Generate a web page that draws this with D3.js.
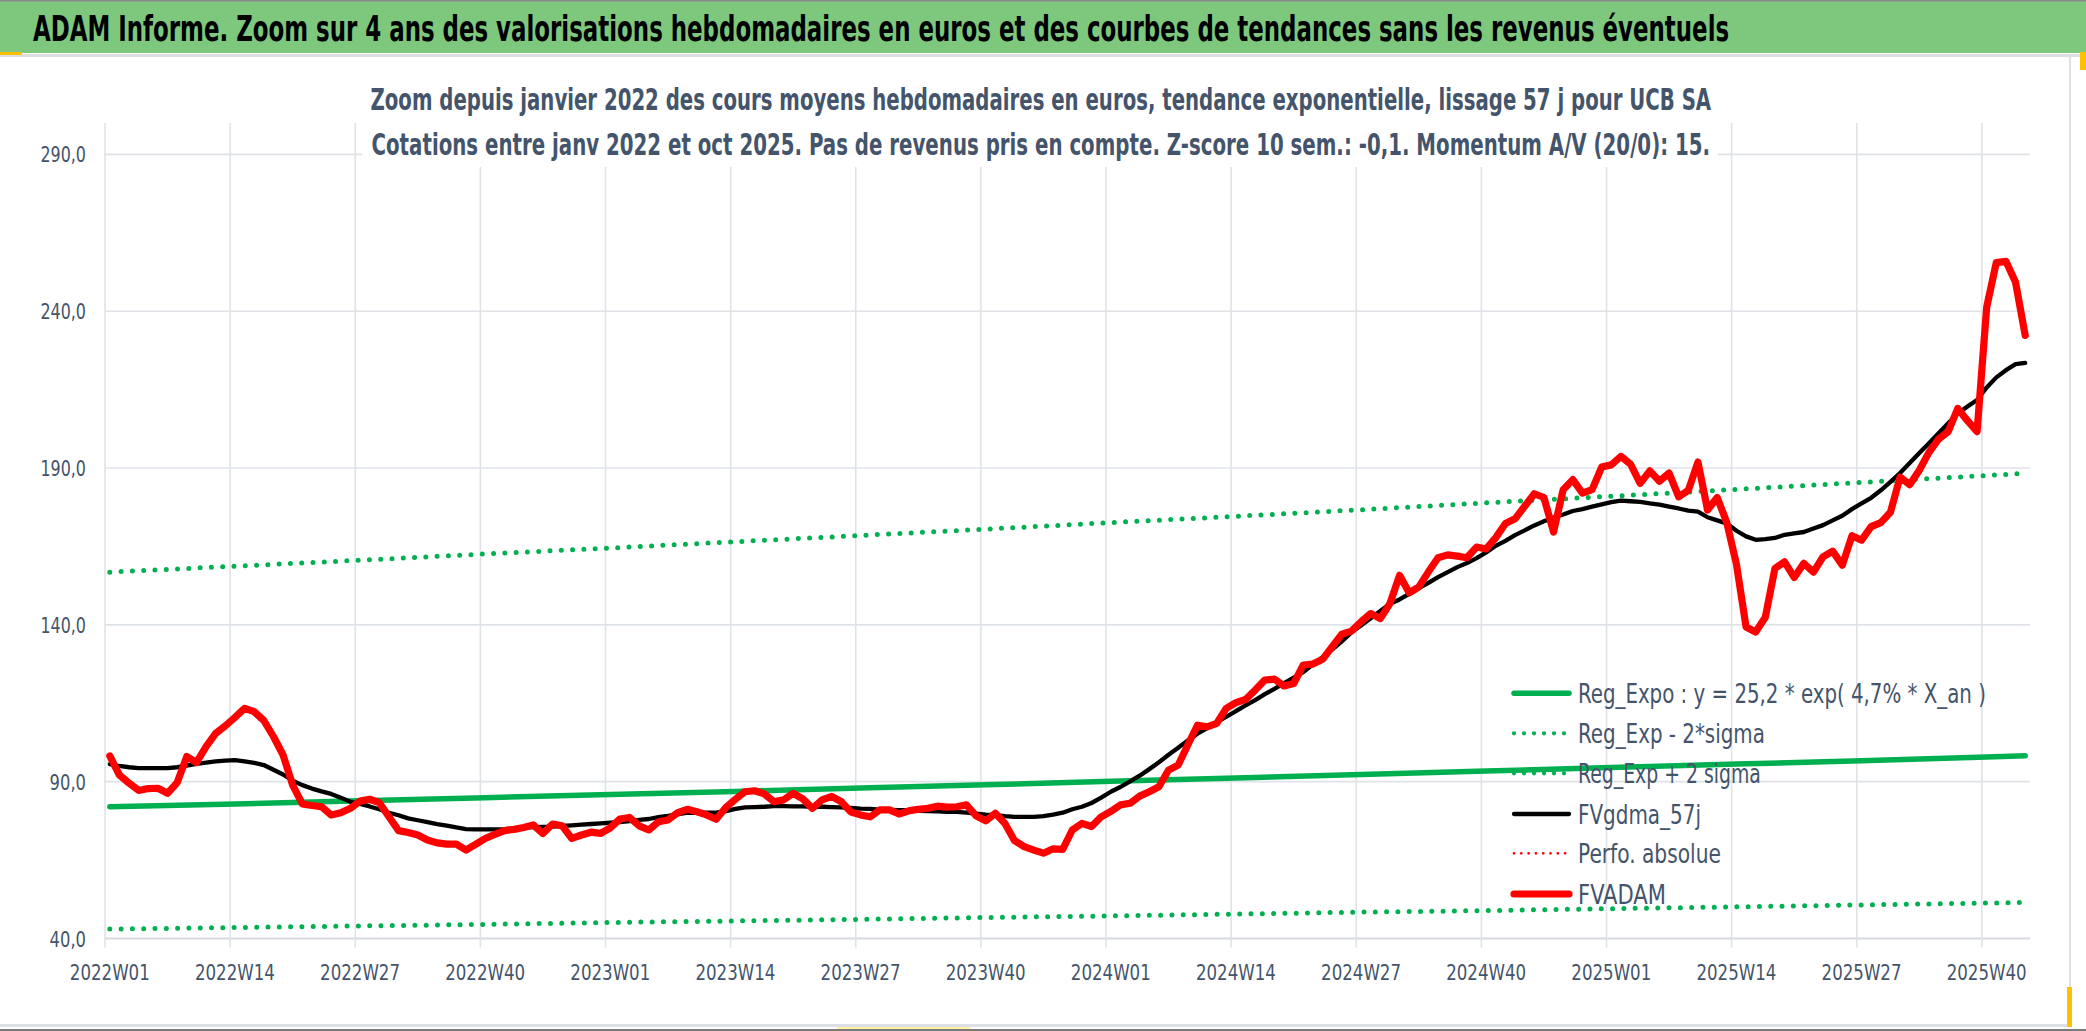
<!DOCTYPE html>
<html>
<head>
<meta charset="utf-8">
<script src="https://cdn.jsdelivr.net/npm/d3@7"></script>
<style>
  body { margin: 0; background: #fff; }
</style>
</head>
<body>
<div id="chart"></div>
<script>
// ---- data ----
const titleText = "ADAM Informe. Zoom sur 4 ans des valorisations hebdomadaires en euros et des courbes de tendances sans les revenus éventuels";
const subtitleLines = [
  "Zoom depuis janvier 2022 des cours moyens hebdomadaires en euros, tendance exponentielle, lissage 57 j pour UCB SA",
  "Cotations entre janv 2022 et oct 2025. Pas de revenus pris en compte. Z-score 10 sem.: -0,1. Momentum A/V (20/0): 15."
];

const tickLabels = ["2022W01", "2022W14", "2022W27", "2022W40", "2023W01", "2023W14", "2023W27", "2023W40",
  "2024W01", "2024W14", "2024W27", "2024W40", "2025W01", "2025W14", "2025W27", "2025W40"];
const yTicks = [40, 90, 140, 190, 240, 290];

// FVADAM : weekly average price, one value per week from 2022W01
const fvadam = [
  98.2, 92.1, 89.5, 87.2, 87.8, 87.9, 86.3, 89.7, 98.0, 96.1,
  101.2, 105.4, 107.8, 110.5, 113.4, 112.3, 109.5, 104.4, 98.5, 88.9,
  82.9, 82.4, 82.0, 79.4, 80.1, 81.5, 83.8, 84.4, 83.3, 78.8,
  74.4, 73.8, 73.0, 71.4, 70.5, 70.1, 70.1, 68.2, 70.0, 71.9,
  73.2, 74.4, 74.8, 75.4, 76.2, 73.5, 76.5, 75.9, 71.9, 73.0,
  73.9, 73.5, 75.3, 78.1, 78.6, 75.9, 74.6, 77.2, 77.8, 80.1,
  81.2, 80.4, 79.4, 78.0, 81.8, 84.4, 86.8, 87.1, 86.1, 83.6,
  84.2, 86.3, 84.5, 81.5, 84.2, 85.3, 83.6, 80.3, 79.4, 78.8,
  81.0, 81.0, 79.7, 80.7, 81.2, 81.5, 82.2, 81.9, 82.0, 82.6,
  79.1, 77.5, 79.9, 76.7, 71.2, 69.3, 68.2, 67.2, 68.6, 68.4,
  74.6, 76.7, 75.7, 78.8, 80.5, 82.6, 83.1, 85.4, 86.8, 88.4,
  93.7, 95.3, 101.7, 108.0, 107.5, 108.6, 113.4, 115.2, 116.2, 119.2,
  122.4, 122.7, 120.5, 121.3, 127.2, 127.5, 129.0, 133.0, 137.0, 138.0,
  141.0, 143.6, 142.0, 146.8, 155.8, 150.2, 152.1, 156.9, 161.4, 162.3,
  161.9, 161.4, 164.8, 164.2, 167.8, 172.3, 173.8, 177.8, 181.8, 180.6,
  169.6, 183.1, 186.3, 182.0, 183.1, 190.3, 191.0, 193.7, 191.2, 185.1,
  189.1, 185.8, 188.4, 180.8, 182.9, 191.9, 176.6, 180.6, 172.6, 159.3,
  139.3, 137.7, 142.4, 158.0, 160.1, 155.1, 159.6, 156.8, 161.7, 163.5,
  159.0, 168.4, 167.0, 171.3, 172.6, 175.9, 187.1, 184.7, 189.3, 195.0,
  199.2, 201.6, 209.0, 205.1, 201.6, 241.3, 255.5, 255.9, 249.2, 232.3
];

// FVgdma_57j : smoothed curve, one value per week
const fvgdma57 = [
  95.6, 95.0, 94.6, 94.3, 94.3, 94.3, 94.3, 94.6, 95.1, 95.7,
  96.1, 96.5, 96.7, 96.9, 96.5, 96.0, 95.3, 93.8, 92.3, 90.3,
  88.9, 87.8, 86.9, 86.1, 84.9, 83.6, 82.9, 82.1, 81.2, 80.1,
  79.3, 78.3, 77.7, 77.1, 76.5, 76.0, 75.4, 74.9, 74.8, 74.8,
  74.8, 74.9, 75.1, 75.4, 75.5, 75.6, 75.7, 75.9, 76.1, 76.3,
  76.5, 76.7, 76.9, 77.1, 77.4, 77.8, 78.1, 78.7, 79.1, 79.6,
  80.1, 80.1, 80.1, 80.1, 80.6, 81.3, 81.8, 81.9, 82.0, 82.2,
  82.2, 82.1, 82.1, 82.0, 82.0, 81.9, 81.8, 81.6, 81.4, 81.3,
  81.1, 81.0, 80.9, 80.9, 80.7, 80.6, 80.5, 80.4, 80.4, 80.1,
  79.8, 79.5, 79.3, 79.0, 78.8, 78.8, 78.8, 79.0, 79.5, 80.1,
  81.2, 82.0, 83.2, 84.9, 86.8, 88.3, 90.1, 91.9, 94.0, 96.2,
  98.6, 100.8, 103.1, 105.3, 107.1, 108.9, 110.7, 112.5, 114.3, 116.0,
  117.9, 119.6, 121.4, 123.2, 124.9, 127.4, 129.7, 132.1, 134.7, 137.6,
  139.8, 142.1, 144.4, 146.7, 148.1, 149.9, 151.7, 153.4, 155.2, 156.8,
  158.4, 159.7, 161.3, 163.1, 165.2, 166.8, 168.6, 170.1, 171.7, 173.0,
  174.2, 175.2, 176.3, 176.9, 177.7, 178.4, 179.1, 179.6, 179.4, 179.2,
  178.7, 178.3, 177.7, 177.1, 176.4, 176.1, 174.3, 173.3, 172.3, 170.0,
  168.2, 167.1, 167.3, 167.7, 168.7, 169.2, 169.6, 170.7, 171.8, 173.3,
  174.8, 176.9, 178.7, 180.5, 182.9, 185.6, 188.4, 191.6, 194.8, 197.9,
  201.1, 204.3, 207.4, 209.6, 211.7, 215.7, 218.9, 221.2, 223.1, 223.5
];

// trend curves, read at the labelled weeks and at the last week
const trendWeeks = [0, 13, 26, 39, 52, 65, 78, 91, 104, 117, 130, 143, 156, 169, 182, 195, 199];
const regExpo = [82.0, 82.9, 83.9, 84.9, 85.9, 86.9, 88.0, 89.0, 90.1, 91.2, 92.3, 93.4, 94.5, 95.6, 96.7, 97.9, 98.3];
const regMinus2Sigma = [43.0, 43.5, 44.0, 44.5, 45.1, 45.6, 46.1, 46.7, 47.2, 47.8, 48.4, 48.9, 49.5, 50.1, 50.7, 51.3, 51.5];
const regPlus2Sigma = [156.8, 158.7, 160.6, 162.6, 164.5, 166.5, 168.5, 170.5, 172.6, 174.6, 176.7, 178.9, 181.0, 183.2, 185.4, 187.6, 188.3];
const perfoAbsolue = []; // in the legend only, nothing drawn

const legendLabels = [
  "Reg_Expo : y = 25,2 * exp( 4,7% *  X_an )",
  "Reg_Exp - 2*sigma",
  "Reg_Exp + 2 sigma",
  "FVgdma_57j",
  "Perfo. absolue",
  "FVADAM"
];

// ---- layout ----
const W = 2086, H = 1031;
const plot = { left: 105, right: 2030, top: 123, bottom: 938.5 };
const textColor = "#44546a";
const font = "'Liberation Sans Narrow', 'DejaVu Sans Condensed', 'Open Sans', sans-serif";

const svg = d3.select("#chart").append("svg")
  .attr("width", W).attr("height", H)
  .style("display", "block");

// frame and title band
svg.append("rect").attr("x", 0).attr("y", 0).attr("width", W).attr("height", H).attr("fill", "#fff");
svg.append("rect").attr("x", 0).attr("y", 1).attr("width", W).attr("height", 52).attr("fill", "#7dc87d");
svg.append("line").attr("x1", 0).attr("x2", W).attr("y1", 0.8).attr("y2", 0.8).attr("stroke", "#8a8a8a").attr("stroke-width", 1.6);
svg.append("line").attr("x1", 0).attr("x2", W).attr("y1", 55.5).attr("y2", 55.5).attr("stroke", "#dcdfe4").attr("stroke-width", 3);
svg.append("line").attr("x1", 2070).attr("x2", 2070).attr("y1", 56).attr("y2", 1026).attr("stroke", "#dcdfe4").attr("stroke-width", 2);
svg.append("line").attr("x1", 0).attr("x2", 2071).attr("y1", 1025.5).attr("y2", 1025.5).attr("stroke", "#dcdfe4").attr("stroke-width", 3);
svg.append("line").attr("x1", 0).attr("x2", W).attr("y1", 1030).attr("y2", 1030).attr("stroke", "#7a7a7a").attr("stroke-width", 2);
svg.append("rect").attr("x", 0).attr("y", 52).attr("width", 22).attr("height", 3).attr("fill", "#ffc000");
svg.append("rect").attr("x", 2080).attr("y", 52).attr("width", 6).attr("height", 18).attr("fill", "#ffc000");
svg.append("rect").attr("x", 2067).attr("y", 987).attr("width", 5).attr("height", 40).attr("fill", "#ffc000");
svg.append("rect").attr("x", 837).attr("y", 1027).attr("width", 133).attr("height", 2).attr("fill", "#fff2a0");

// squeeze a text horizontally so it spans w pixels starting at x0 (baseline y0)
function fitText(parent, str, x0, y0, w, size, weight, fill) {
  const t = parent.append("text")
    .attr("x", 0).attr("y", 0)
    .attr("font-family", font).attr("font-size", size)
    .attr("font-weight", weight || "normal")
    .attr("fill", fill || textColor)
    .text(str);
  const natural = t.node().getComputedTextLength() || w;
  t.attr("transform", `translate(${x0},${y0}) scale(${w / natural},1)`);
  return t;
}

fitText(svg, titleText, 33, 41, 1697, 35, "bold", "#000");

// scales
const nWeeks = fvadam.length;
const x = d3.scaleLinear().domain([0, nWeeks]).range([plot.left, plot.right]);
const y = d3.scaleLinear().domain([40, 300]).range([plot.bottom, plot.top]);
const xc = i => x(i + 0.5);

// gridlines
const grid = svg.append("g");
grid.selectAll("line.h").data(yTicks).join("line")
  .attr("x1", plot.left).attr("x2", plot.right)
  .attr("y1", d => y(d)).attr("y2", d => y(d))
  .attr("stroke", d => d === 40 ? "#d6dae0" : "#dfe3e8")
  .attr("stroke-width", d => d === 40 ? 2.2 : 1.6);
grid.selectAll("line.v").data(tickLabels).join("line")
  .attr("x1", (d, k) => x(13 * k)).attr("x2", (d, k) => x(13 * k))
  .attr("y1", plot.top).attr("y2", plot.bottom + 9)
  .attr("stroke", "#dfe3e8").attr("stroke-width", 1.6);

// axis labels
const yFmt = d => d3.format(".1f")(d).replace(".", ",");
const yAxisG = svg.append("g");
yTicks.forEach(d => {
  const s = yFmt(d), w = s.length * 9.1;
  fitText(yAxisG, s, 86 - w, y(d) + 8, w, 22);
});
const xAxisG = svg.append("g");
tickLabels.forEach((s, k) => {
  fitText(xAxisG, s, xc(13 * k) - 40, 980, 80, 22);
});

// subtitle box (white, hides the gridlines behind it)
svg.append("rect").attr("x", 362).attr("y", 70).attr("width", 1356).attr("height", 97).attr("fill", "#fff");
const subW = [1341, 1339];
subtitleLines.forEach((s, k) => {
  fitText(svg, s, 1041 - subW[k] / 2, 110 + 45 * k, subW[k], 30, "bold");
});

// series
const weekLine = d3.line().x((d, i) => xc(i)).y(d => y(d));
const trendLine = d3.line().x((d, k) => xc(trendWeeks[k])).y(d => y(d));

const styles = [
  { stroke: "#00b050", width: 5.5, dash: null },
  { stroke: "#00b050", width: 5, dash: "0 11.3" },
  { stroke: "#00b050", width: 5, dash: "0 11.3" },
  { stroke: "#000000", width: 4.3, dash: null },
  { stroke: "#ff0000", width: 2.8, dash: "0 7.3" },
  { stroke: "#ff0000", width: 7.2, dash: null }
];

const series = [
  trendLine(regExpo),
  trendLine(regMinus2Sigma),
  trendLine(regPlus2Sigma),
  weekLine(fvgdma57),
  perfoAbsolue.length ? weekLine(perfoAbsolue) : null,
  weekLine(fvadam)
];

const lines = svg.append("g");
series.forEach((p, k) => {
  if (!p) return;
  lines.append("path")
    .attr("d", p)
    .attr("fill", "none")
    .attr("stroke", styles[k].stroke)
    .attr("stroke-width", styles[k].width)
    .attr("stroke-dasharray", styles[k].dash)
    .attr("stroke-linecap", "round")
    .attr("stroke-linejoin", "round");
});

// legend
const legendTextW = [408, 187, 183, 123, 143, 88];
const legendY = [693.3, 733.3, 773.3, 814, 853.3, 894];
const legend = svg.append("g");
legendLabels.forEach((lab, k) => {
  legend.append("line")
    .attr("x1", 1514).attr("x2", 1569)
    .attr("y1", legendY[k]).attr("y2", legendY[k])
    .attr("stroke", styles[k].stroke)
    .attr("stroke-width", k === 1 || k === 2 ? 4.2 : styles[k].width)
    .attr("stroke-dasharray", k === 1 || k === 2 ? "0 10" : styles[k].dash)
    .attr("stroke-linecap", "round");
  fitText(legend, lab, 1578, legendY[k] + 10, legendTextW[k], 26);
});
</script>
</body>
</html>
